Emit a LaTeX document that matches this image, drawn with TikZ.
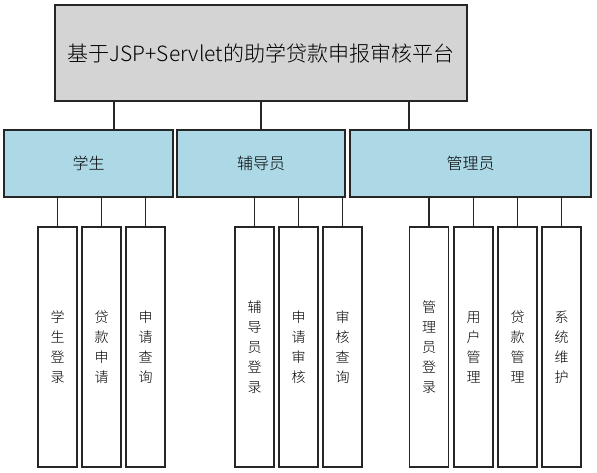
\documentclass[tikz,border=0pt]{standalone}
\usepackage{fontspec}
\setmainfont{Noto Sans CJK SC}[UprightFont={* Light}]
\begin{document}
\begin{tikzpicture}[x=1pt,y=-1pt,
  box/.style={draw=black!85,line width=1.3pt,rectangle,inner sep=0pt},
  topbox/.style={box,fill=black!17,minimum width=412pt,minimum height=96pt,font=\fontsize{21}{26}\selectfont},
  midbox/.style={box,fill={rgb,255:red,173;green,216;blue,230},minimum height=67pt,font=\fontsize{16}{19}\selectfont},
  leaf/.style={box,fill=white,minimum width=39pt,minimum height=240pt,align=center,font=\fontsize{14}{20}\selectfont},
  link/.style={draw=black!85,line width=1.3pt}]
\useasboundingbox (0,0) rectangle (597,473);
\node[topbox] (top) at (261,53) {基于JSP+Servlet的助学贷款申报审核平台};
\node[midbox,minimum width=169pt] (s) at (88.5,163.5) {学生};
\node[midbox,minimum width=168pt] (c) at (261,163.5) {辅导员};
\node[midbox,minimum width=241pt] (a) at (470.5,163.5) {管理员};
\coordinate (cs) at (114,0);
\coordinate (cc) at (261,0);
\coordinate (ca) at (409,0);
\draw[link] (top.south -| cs) -- (s.north -| cs);
\draw[link] (top.south -| cc) -- (c.north -| cc);
\draw[link] (top.south -| ca) -- (a.north -| ca);
\node[leaf] (s1) at (57.5,347) {学\\生\\登\\录};
\node[leaf] (s2) at (101.5,347) {贷\\款\\申\\请};
\node[leaf] (s3) at (145.5,347) {申\\请\\查\\询};
\node[leaf] (c1) at (254.5,347) {辅\\导\\员\\登\\录};
\node[leaf] (c2) at (298.5,347) {申\\请\\审\\核};
\node[leaf] (c3) at (342.5,347) {审\\核\\查\\询};
\node[leaf] (a1) at (429,347) {管\\理\\员\\登\\录};
\node[leaf] (a2) at (473.5,347) {用\\户\\管\\理};
\node[leaf] (a3) at (517.5,347) {贷\\款\\管\\理};
\node[leaf] (a4) at (561.5,347) {系\\统\\维\\护};
\foreach \p/\l in {s/s1,s/s2,s/s3,c/c1,c/c2,c/c3,a/a1,a/a2,a/a3,a/a4}
  \draw[link] (\p.south -| \l.north) -- (\l.north);
\end{tikzpicture}
\end{document}
